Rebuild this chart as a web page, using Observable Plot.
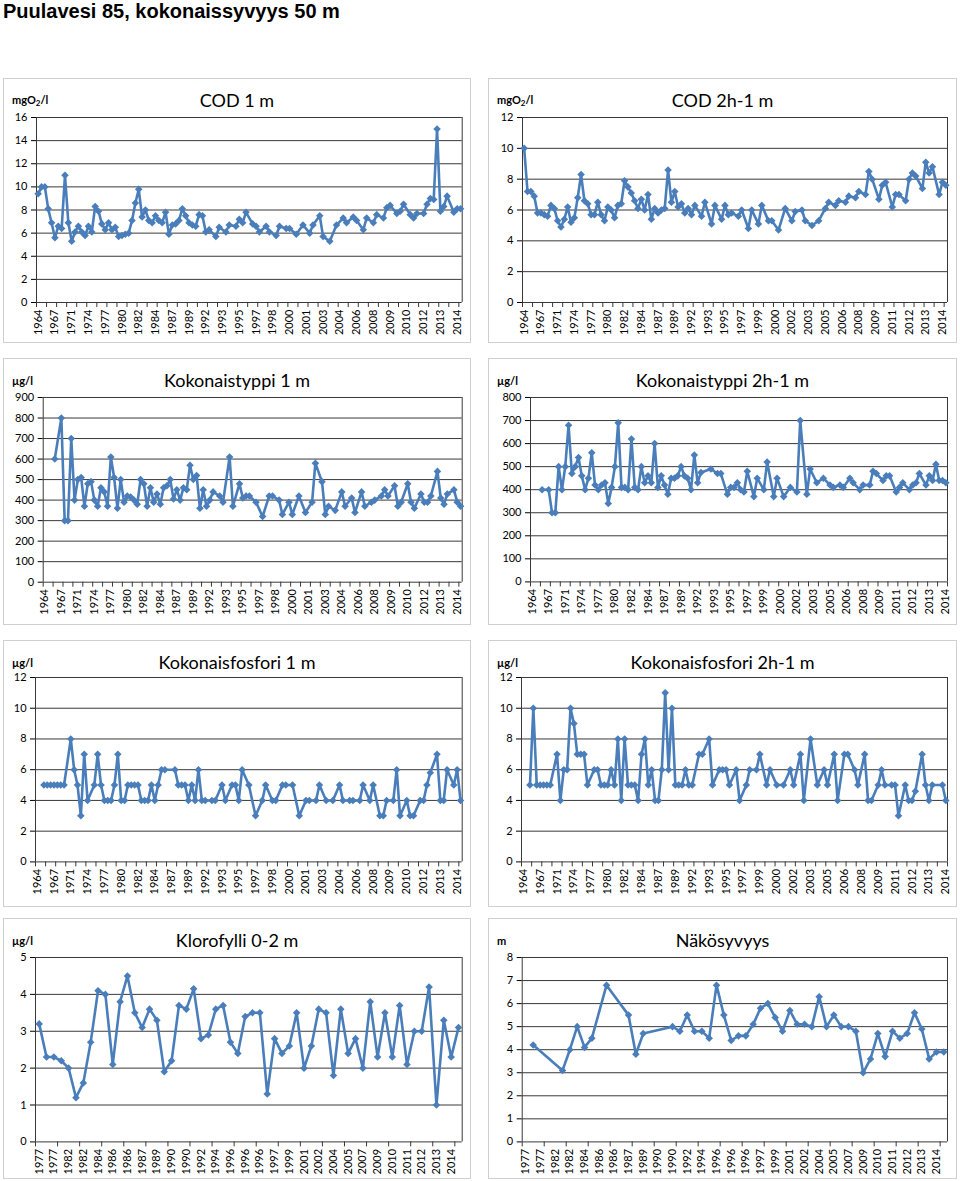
<!DOCTYPE html>
<html><head><meta charset="utf-8">
<script src="https://cdn.jsdelivr.net/npm/d3@7"></script>
<script src="https://cdn.jsdelivr.net/npm/@observablehq/plot@0.6"></script>
<style>
body{margin:0;background:#fff;}
#page{position:relative;width:960px;height:1181px;overflow:hidden;font-family:Lato,"Open Sans",sans-serif;color:#000;}
.title{position:absolute;left:3px;top:0px;line-height:22px;font:bold 20px/22px "Liberation Sans",Arial,sans-serif;white-space:nowrap;}
.panel{position:absolute;border:1px solid #cfcfcf;box-sizing:border-box;}
.unit{position:absolute;font:bold 11px Lato,sans-serif;transform:translateY(-50%);white-space:nowrap;}
.unit sub{font-size:8px;vertical-align:-2px;}
.ptitle{position:absolute;font:18px Lato,sans-serif;transform:translate(-50%,-50%);white-space:nowrap;}
.plot{position:absolute;}
</style></head>
<body><div id="page"><div class="title">Puulavesi 85, kokonaissyvyys 50 m</div></div>
<script>
// ---- tick labels (categories shown on the x axis) ----
const labels1m = ["1964","1967","1971","1974","1977","1980","1982","1984","1987","1989","1992","1993","1995","1997","1998","2000","2001","2003","2004","2006","2008","2009","2010","2012","2013","2014"];
const labels2h = ["1964","1967","1971","1974","1977","1980","1982","1984","1987","1989","1992","1993","1995","1997","1999","2000","2002","2003","2005","2006","2008","2009","2011","2012","2013","2014"];
const labelsSurf = ["1977","1977","1982","1982","1984","1986","1986","1987","1989","1990","1990","1992","1994","1996","1996","1996","1997","1999","2001","2002","2004","2005","2007","2009","2010","2011","2012","2013","2014"];

// ---- series values (null = no sample) ----
const cod1 = [9.4,10.0,10.0,8.1,6.9,5.6,6.6,6.4,11.0,6.9,
 5.3,6.1,6.6,6.1,5.8,6.6,6.1,8.3,7.9,6.8,
 6.3,6.9,6.3,6.5,5.7,5.8,5.9,6.0,7.1,8.6,
 9.8,7.4,8.0,7.1,6.9,7.5,7.1,6.9,7.8,5.9,
 6.7,6.8,7.1,8.1,7.5,6.9,6.7,6.6,7.6,7.5,
 6.1,6.3,null,5.7,6.5,null,6.1,6.7,null,6.6,
 7.2,6.9,7.8,null,6.8,6.6,6.1,null,6.6,6.1,
 null,5.8,6.6,null,6.4,6.4,null,5.9,null,6.7,
 null,6.0,6.7,null,7.5,5.7,null,5.3,null,6.7,
 null,7.3,6.9,null,7.4,7.1,null,6.3,7.3,null,
 6.9,7.6,null,7.3,8.2,8.4,null,7.7,7.9,8.5,
 null,7.6,7.3,7.7,null,7.7,8.5,9.0,8.9,15.0,
 7.9,8.3,9.2,null,7.8,8.1,8.1];
const cod2 = [10.0,7.2,7.2,6.9,5.8,5.8,5.7,5.6,6.3,6.1,
 5.3,4.9,5.4,6.2,5.2,5.5,6.8,8.3,6.6,6.4,
 5.7,5.7,6.5,5.7,5.3,6.2,6.0,5.5,6.3,6.4,
 7.9,7.5,7.1,6.6,6.1,6.7,6.0,7.0,5.4,6.1,
 5.8,6.0,6.1,8.6,6.5,7.2,6.2,6.4,5.8,6.1,
 5.7,6.3,null,5.6,6.5,null,5.1,6.3,null,5.4,
 6.3,5.7,5.8,null,5.6,6.0,null,4.8,6.0,null,
 5.1,6.3,null,5.3,5.3,null,4.7,null,6.1,null,
 5.3,5.9,null,6.0,5.3,null,5.0,null,5.3,null,
 6.1,6.5,null,6.3,6.6,null,6.5,6.9,null,6.8,
 7.2,null,7.0,8.5,8.0,null,6.7,7.6,7.8,null,
 6.2,7.0,7.0,null,6.6,8.0,8.4,8.2,null,7.4,
 9.1,8.4,8.8,null,7.0,7.8,7.6];
const ntot1 = [null,null,null,600,null,800,300,300,700,400,
 500,510,370,480,490,400,370,460,440,370,
 610,510,360,500,390,420,415,400,380,500,
 480,370,460,390,430,380,460,470,500,405,
 450,400,460,450,570,500,520,360,450,370,
 400,440,null,420,390,null,610,370,null,480,
 410,420,420,null,390,null,320,null,420,420,
 null,400,330,null,390,330,null,420,null,340,
 null,390,580,null,490,330,370,null,350,null,
 440,370,null,410,340,null,440,370,null,390,
 400,null,420,450,420,null,470,370,390,null,
 480,390,360,null,430,390,390,420,null,540,
 410,380,430,null,450,390,370];
const ntot2 = [null,null,null,400,null,400,300,300,500,400,
 500,680,470,500,540,460,400,450,560,420,
 400,420,430,340,410,500,690,410,410,400,
 620,410,400,500,430,460,430,600,410,460,
 420,380,450,450,460,500,460,450,400,550,
 430,475,null,null,490,null,470,470,null,380,
 410,410,430,400,390,480,null,370,450,null,
 400,520,null,370,450,null,370,null,410,null,
 390,700,null,380,490,null,430,null,450,null,
 420,410,null,420,410,null,450,430,null,400,
 420,null,420,480,470,null,440,460,460,null,
 390,410,430,null,400,420,430,470,null,420,
 460,440,510,440,440,430];
const ptot1 = [null,null,5,5,5,5,5,5,5,null,
 8,6,5,3,7,4,null,5,7,5,
 4,4,4,5,7,4,4,5,5,5,
 5,4,4,4,5,4,5,6,6,null,
 null,6,5,5,5,4,5,4,6,4,
 4,null,4,4,null,5,4,null,5,5,
 4,6,null,5,null,3,null,4,5,null,
 4,4,null,5,5,null,5,null,3,null,
 4,4,null,4,5,null,4,null,4,null,
 5,4,null,4,4,null,4,5,null,4,
 5,null,3,3,4,null,4,6,3,null,
 4,3,3,null,4,4,5,5.8,null,7,
 4,4,6,null,5,6,4];
const ptot2 = [null,null,5,10,5,5,5,5,5,null,
 7,4,6,6,10,9,7,7,7,5,
 null,6,6,5,5,5,6,5,8,4,
 8,5,5,5,4,7,8,5,6,4,
 4,6,11,6,10,5,5,5,6,5,
 5,null,7,7,null,8,5,null,6,6,
 6,5,null,6,4,null,5,6,null,6,
 7,null,5,6,null,5,null,5,null,6,
 5,null,7,4,null,8,null,5,null,6,
 5,null,7,4,null,7,7,null,6,5,
 null,7,4,4,null,5,6,5,null,5,
 5,3,null,5,4,4,4.6,null,7,5,
 4,5,null,null,5,4];
const chl = [3.2,2.3,2.3,2.2,2.0,1.2,1.6,2.7,4.1,4.0,
 2.1,3.8,4.5,3.5,3.1,3.6,3.3,1.9,2.2,3.7,
 3.6,4.15,2.8,2.9,3.6,3.7,2.7,2.4,3.4,3.5,
 3.5,1.3,2.8,2.4,2.6,3.5,2.0,2.6,3.6,3.5,
 1.8,3.6,2.4,2.8,2.0,3.8,2.3,3.5,2.3,3.7,
 2.1,3.0,3.0,4.2,1.0,3.3,2.3,3.1];
const secchi = [null,4.2,null,null,null,3.1,4.0,5.0,4.1,4.5,
 null,6.8,null,null,5.5,3.8,4.7,null,null,null,
 5.0,4.8,5.5,4.8,4.8,4.5,6.8,5.5,4.4,4.6,
 4.6,5.1,5.8,6.0,5.4,4.8,5.7,5.1,5.1,5.0,
 6.3,5.0,5.5,5.0,5.0,4.8,3.0,3.6,4.7,3.7,
 4.8,4.5,4.7,5.6,4.9,3.6,3.9,3.9];

// ---- layout ----
const panels = [
 {values:cod1, labels:labels1m, every:5, ymax:16, step:2, unit:'mgO<sub>2</sub>/l', title:'COD 1 m', box:[3,78,471,343], plot:[36,117,461.7,302]},
 {values:cod2, labels:labels2h, every:5, ymax:12, step:2, unit:'mgO<sub>2</sub>/l', title:'COD 2h-1 m', box:[488,78,957,343], plot:[522,117,947,302]},
 {values:ntot1, labels:labels1m, every:5, ymax:900, step:100, unit:'µg/l', title:'Kokonaistyppi 1 m', box:[3,358,471,625], plot:[42.7,397.3,461.7,582]},
 {values:ntot2, labels:labels2h, every:5, ymax:800, step:100, unit:'µg/l', title:'Kokonaistyppi 2h-1 m', box:[488,358,957,625], plot:[530,397.3,947,581.7]},
 {values:ptot1, labels:labels1m, every:5, ymax:12, step:2, unit:'µg/l', title:'Kokonaisfosfori 1 m', box:[3,640,471,907], plot:[35,677.3,461.7,861.7]},
 {values:ptot2, labels:labels2h, every:5, ymax:12, step:2, unit:'µg/l', title:'Kokonaisfosfori 2h-1 m', box:[488,640,957,907], plot:[521,677.3,947,861.7]},
 {values:chl, labels:labelsSurf, every:2, ymax:5, step:1, unit:'µg/l', title:'Klorofylli 0-2 m', box:[3,918,471,1179], plot:[35,957.3,461.7,1141.7]},
 {values:secchi, labels:labelsSurf, every:2, ymax:8, step:1, unit:'m', title:'Näkösyvyys', box:[488,918,957,1179], plot:[521.7,957.3,947,1141.7]}
];

const page = document.getElementById('page');
const BLUE = '#4a7ebb', GRID = '#383838';

for (const p of panels) {
  const [bl, bt, br, bb] = p.box;
  const [pl, pt, pr, pb] = p.plot;
  const box = document.createElement('div');
  box.className = 'panel';
  Object.assign(box.style, {left: bl+'px', top: bt+'px', width: (br-bl)+'px', height: (bb-bt)+'px'});
  page.appendChild(box);

  const unit = document.createElement('div');
  unit.className = 'unit';
  unit.innerHTML = p.unit;
  Object.assign(unit.style, {left: (bl+9)+'px', top: (bt+22)+'px'});
  page.appendChild(unit);

  const ttl = document.createElement('div');
  ttl.className = 'ptitle';
  ttl.textContent = p.title;
  Object.assign(ttl.style, {left: ((bl+br)/2)+'px', top: (bt+22)+'px'});
  page.appendChild(ttl);

  const N = p.values.length;
  const pts = p.values.map((v, i) => ({i, v})).filter(d => d.v != null);
  const labelIdx = p.labels.map((_, k) => k * p.every);
  const tickIdx = d3.range(-0.5, N, 3);
  const yt = d3.range(0, p.ymax + p.step/2, p.step);
  const MT = 10, MB = 44;
  const ph = pb - pt;
  const tickLen = 5 * p.ymax / ph;

  const svg = Plot.plot({
    width: br - bl, height: MT + ph + MB,
    marginLeft: pl - bl, marginRight: br - pr, marginTop: MT, marginBottom: MB,
    style: {fontFamily: 'Lato, sans-serif', fontSize: '11px', color: '#000', background: 'transparent', overflow: 'visible'},
    x: {domain: [-0.5, N - 0.5], ticks: labelIdx, tickFormat: i => p.labels[Math.round(i / p.every)], tickRotate: -90, tickSize: 0, tickPadding: 7, label: null},
    y: {domain: [0, p.ymax], ticks: yt, tickFormat: d => String(d), tickSize: 5, tickPadding: 4, label: null},
    marks: [
      Plot.ruleY(yt, {stroke: GRID, strokeWidth: 1}),
      Plot.ruleX([-0.5, N - 0.5], {stroke: GRID, strokeWidth: 1}),
      Plot.ruleX(tickIdx, {y1: 0, y2: -tickLen, stroke: GRID, strokeWidth: 1}),
      Plot.line(pts, {x: 'i', y: 'v', stroke: BLUE, strokeWidth: 2.6}),
      Plot.dot(pts, {x: 'i', y: 'v', symbol: 'diamond2', r: 3.4, fill: BLUE, stroke: 'none'})
    ]
  });
  svg.classList.add('plot');
  Object.assign(svg.style, {left: bl+'px', top: (pt - MT)+'px'});
  page.appendChild(svg);
}
</script></body></html>
